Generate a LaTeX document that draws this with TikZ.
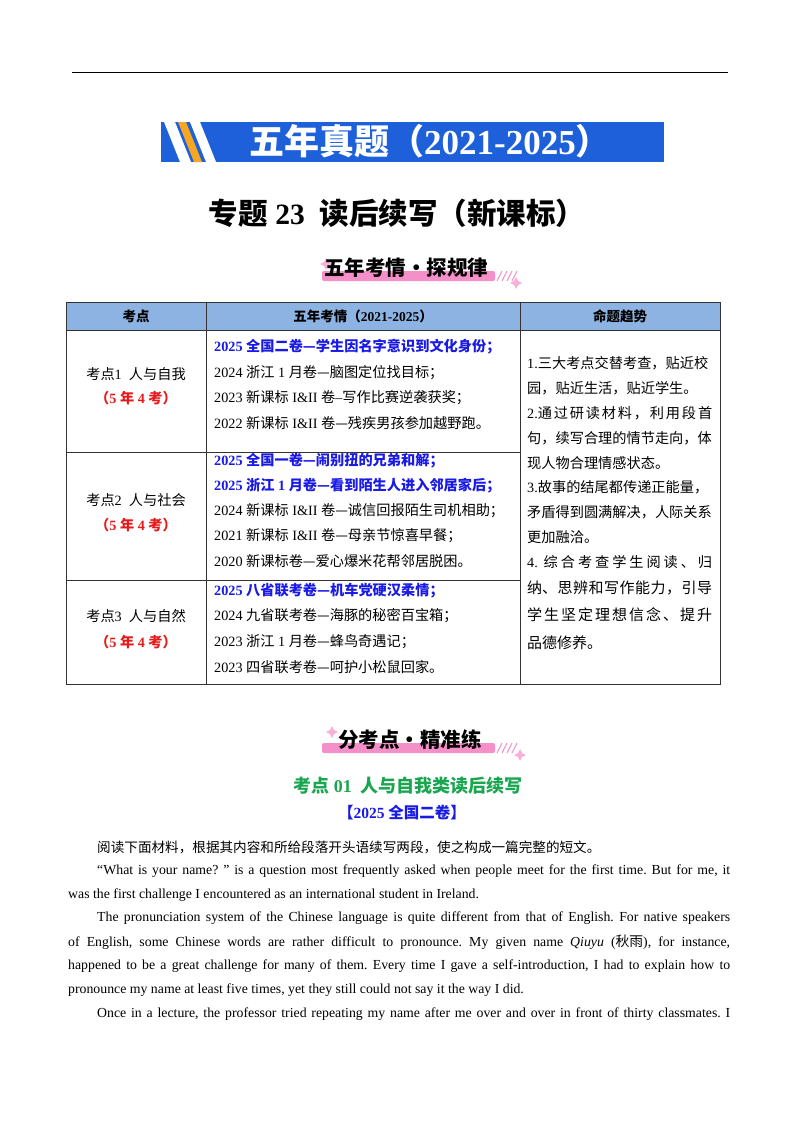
\documentclass[tikz,border=0pt]{standalone}
\usepackage{fontspec}
\setmainfont{Liberation Serif}
\newfontfamily\cjk{Noto Sans CJK SC}
\XeTeXinterchartokenstate=1
\newXeTeXintercharclass\cjkclass
\makeatletter
\count@="3000 \loop \XeTeXcharclass\count@=\cjkclass \advance\count@ 1 \ifnum\count@<"3100 \repeat
\count@="4E00 \loop \XeTeXcharclass\count@=\cjkclass \advance\count@ 1 \ifnum\count@<"A000 \repeat
\count@="FF00 \loop \XeTeXcharclass\count@=\cjkclass \advance\count@ 1 \ifnum\count@<"FFF0 \repeat
\makeatother
\XeTeXcharclass"2014=\cjkclass
\XeTeXinterchartoks 0 \cjkclass = {\begingroup\cjk}
\XeTeXinterchartoks 4095 \cjkclass = {\begingroup\cjk}
\XeTeXinterchartoks \cjkclass 0 = {\endgroup}
\XeTeXinterchartoks \cjkclass 4095 = {\endgroup}
\definecolor{bannerblue}{HTML}{1E60DA}
\definecolor{stripeor}{HTML}{F5A623}
\definecolor{headblue}{HTML}{8DB3E2}
\definecolor{pinkbar}{HTML}{F48FC8}
\definecolor{txtblue}{HTML}{1A1AE6}
\definecolor{txtred}{HTML}{E61A1A}
\definecolor{txtgreen}{HTML}{1AA550}
\begin{document}
\frenchspacing
\begin{tikzpicture}[x=1pt,y=-1pt,
  t/.style={inner sep=0pt,anchor=west,font=\fontsize{14.2}{16}\selectfont},
  tc/.style={inner sep=0pt,font=\fontsize{14.2}{16}\selectfont},
  bl/.style={t,text=txtblue,font=\fontsize{14.2}{16}\selectfont\bfseries},
  rd/.style={tc,text=txtred,font=\fontsize{14.2}{16}\selectfont\bfseries},
  big/.style={t,font=\fontsize{15}{17}\selectfont},
  bt/.style={inner sep=0pt,anchor=west,font=\fontsize{13.8}{15}\selectfont\frenchspacing},
  grid/.style={line width=0.8pt,draw=black!80},
  pinklabel/.style={inner sep=0pt,font=\fontsize{20.5}{22}\selectfont\bfseries}]
\useasboundingbox (0,0) rectangle (800,1132);
\fill[white] (0,0) rectangle (800,1132);
% top rule
\draw[line width=0.8pt] (72,72) -- (728,72);
% banner
\fill[bannerblue] (161,122) rectangle (664,162);
\fill[white] (164,122) -- (175,122) -- (191,162) -- (180,162) -- cycle;
\fill[stripeor] (178,122) -- (186,122) -- (202,162) -- (194,162) -- cycle;
\fill[white] (190,122) -- (200,122) -- (216,162) -- (206,162) -- cycle;
\node[inner sep=0pt,text=white,font=\fontsize{35}{37}\selectfont\bfseries] (banner) at (430,141) {五年真题（2021-2025）};
% title
\node[inner sep=0pt,font=\fontsize{29.5}{32}\selectfont\bfseries] (title) at (397,213) {专题 23\ \ 读后续写（新课标）};
% pink label 1
\fill[pinkbar,rounded corners=2pt] (322,271) rectangle (495,281);
\foreach \i in {0,1,2,3}{\draw[pinkbar,line width=1pt] (497+5*\i,281) -- (502+5*\i,271);}
\fill[pinkbar!70] (326,258) -- (328,262) -- (332,264) -- (328,266) -- (326,270) -- (324,266) -- (320,264) -- (324,262) -- cycle;
\fill[pinkbar!70] (516,277) -- (518,281) -- (522,283) -- (518,285) -- (516,289) -- (514,285) -- (510,283) -- (514,281) -- cycle;
\node[pinklabel] (lab1) at (406,268) {五年考情・探规律};
% table
\fill[headblue] (66,302) rectangle (720,330);
\draw[grid] (66,302) rectangle (720,684);
\draw[grid] (66,330) -- (720,330);
\draw[grid] (206,302) -- (206,684);
\draw[grid] (520,302) -- (520,684);
\draw[grid] (66,452) -- (520,452);
\draw[grid] (66,580) -- (520,580);
\node[tc,font=\fontsize{13.5}{15}\selectfont\bfseries] (h1) at (136,316) {考点};
\node[tc,font=\fontsize{13.5}{15}\selectfont\bfseries] (h2) at (363,316) {五年考情（2021-2025）};
\node[tc,font=\fontsize{13.5}{15}\selectfont\bfseries] (h3) at (620,316) {命题趋势};
% column 1
\node[tc] (k1) at (136,374) {考点1\ \ 人与自我};
\node[rd] (k1n) at (136,398) {（5 年 4 考）};
\node[tc] (k2) at (136,500) {考点2\ \ 人与社会};
\node[rd] (k2n) at (136,525) {（5 年 4 考）};
\node[tc] (k3) at (136,616) {考点3\ \ 人与自然};
\node[rd] (k3n) at (136,642) {（5 年 4 考）};
% column 2
\node[bl] (a1) at (214,347) {2025 全国二卷—学生因名字意识到文化身份；};
\node[t] (a2) at (214,373) {2024 浙江 1 月卷—脑图定位找目标；};
\node[t] (a3) at (214,398) {2023 新课标 I\&II 卷--写作比赛逆袭获奖；};
\node[t] (a4) at (214,423) {2022 新课标 I\&II 卷—残疾男孩参加越野跑。};
\node[bl] (b1) at (214,461) {2025 全国一卷—闹别扭的兄弟和解；};
\node[bl] (b2) at (214,486) {2025 浙江 1 月卷—看到陌生人进入邻居家后；};
\node[t] (b3) at (214,511) {2024 新课标 I\&II 卷—诚信回报陌生司机相助；};
\node[t] (b4) at (214,536) {2021 新课标 I\&II 卷—母亲节惊喜早餐；};
\node[t] (b5) at (214,561) {2020 新课标卷—爱心爆米花帮邻居脱困。};
\node[bl] (c1) at (214,591) {2025 八省联考卷—机车党硬汉柔情；};
\node[t] (c2) at (214,616) {2024 九省联考卷—海豚的秘密百宝箱；};
\node[t] (c3) at (214,642) {2023 浙江 1 月卷—蜂鸟奇遇记；};
\node[t] (c4) at (214,667) {2023 四省联考卷—呵护小松鼠回家。};
% column 3
\node[t] (d1) at (527,363) {1.三大考点交替考查，贴近校};
\node[t] (d2) at (527,388) {园，贴近生活，贴近学生。};
\node[t] (d3) at (527,413) {\hbox to 185pt{2.通\hfil 过\hfil 研\hfil 读\hfil 材\hfil 料\hfil ，\hfil 利\hfil 用\hfil 段\hfil 首}};
\node[t] (d4) at (527,438) {句，续写合理的情节走向，体};
\node[t] (d5) at (527,463) {现人物合理情感状态。};
\node[t] (d6) at (527,487) {3.故事的结尾都传递正能量，};
\node[t] (d7) at (527,512) {矛盾得到圆满解决，人际关系};
\node[t] (d8) at (527,537) {更加融洽。};
\node[t] (d9) at (527,562) {\hbox to 185pt{4.\hfil\hfil 综\hfil 合\hfil 考\hfil 查\hfil 学\hfil 生\hfil 阅\hfil 读\hfil 、\hfil 归}};
\node[big] (d10) at (527,588) {\hbox to 185pt{纳、\hfil 思\hfil 辨\hfil 和\hfil 写\hfil 作\hfil 能\hfil 力\hfil ，\hfil 引\hfil 导}};
\node[big] (d11) at (527,615) {\hbox to 185pt{学\hfil 生\hfil 坚\hfil 定\hfil 理\hfil 想\hfil 信\hfil 念\hfil 、\hfil 提\hfil 升}};
\node[big] (d12) at (527,643) {品德修养。};
% pink label 2
\fill[pinkbar,rounded corners=2pt] (322,743) rectangle (495,753);
\foreach \i in {0,1,2,3}{\draw[pinkbar,line width=1pt] (497+5*\i,753) -- (502+5*\i,743);}
\fill[pinkbar!70] (332,726) -- (334,730) -- (338,732) -- (334,734) -- (332,738) -- (330,734) -- (326,732) -- (330,730) -- cycle;
\fill[pinkbar!70] (520,749) -- (522,753) -- (526,755) -- (522,757) -- (520,761) -- (518,757) -- (514,755) -- (518,753) -- cycle;
\node[pinklabel] (lab2) at (410,740) {分考点・精准练};
% headings
\node[inner sep=0pt,text=txtgreen,font=\fontsize{18}{20}\selectfont\bfseries] (h01) at (408,786) {考点 01\ \ 人与自我类读后续写};
\node[inner sep=0pt,text=txtblue,font=\fontsize{15.5}{17}\selectfont\bfseries] (src) at (402,813) {【2025 全国二卷】};
% body
\node[bt,font=\fontsize{13.6}{15}\selectfont] (p0) at (97,847) {阅读下面材料，根据其内容和所给段落开头语续写两段，使之构成一篇完整的短文。};
\node[bt] (p1) at (97,871) {\hbox to 633pt{“What is your name? ” is a question most frequently asked when people meet for the first time. But for me, it}};
\node[bt] (p2) at (68,895) {was the first challenge I encountered as an international student in Ireland.};
\node[bt] (p3) at (97,918) {\hbox to 633pt{The pronunciation system of the Chinese language is quite different from that of English. For native speakers}};
\node[bt] (p4) at (68,942) {\hbox to 662pt{of English, some Chinese words are rather difficult to pronounce. My given name \textit{Qiuyu} (秋雨), for instance,}};
\node[bt] (p5) at (68,966) {\hbox to 662pt{happened to be a great challenge for many of them. Every time I gave a self-introduction, I had to explain how to}};
\node[bt] (p6) at (68,990) {pronounce my name at least five times, yet they still could not say it the way I did.};
\node[bt] (p7) at (97,1014) {\hbox to 633pt{Once in a lecture, the professor tried repeating my name after me over and over in front of thirty classmates. I}};
\end{tikzpicture}
\end{document}
